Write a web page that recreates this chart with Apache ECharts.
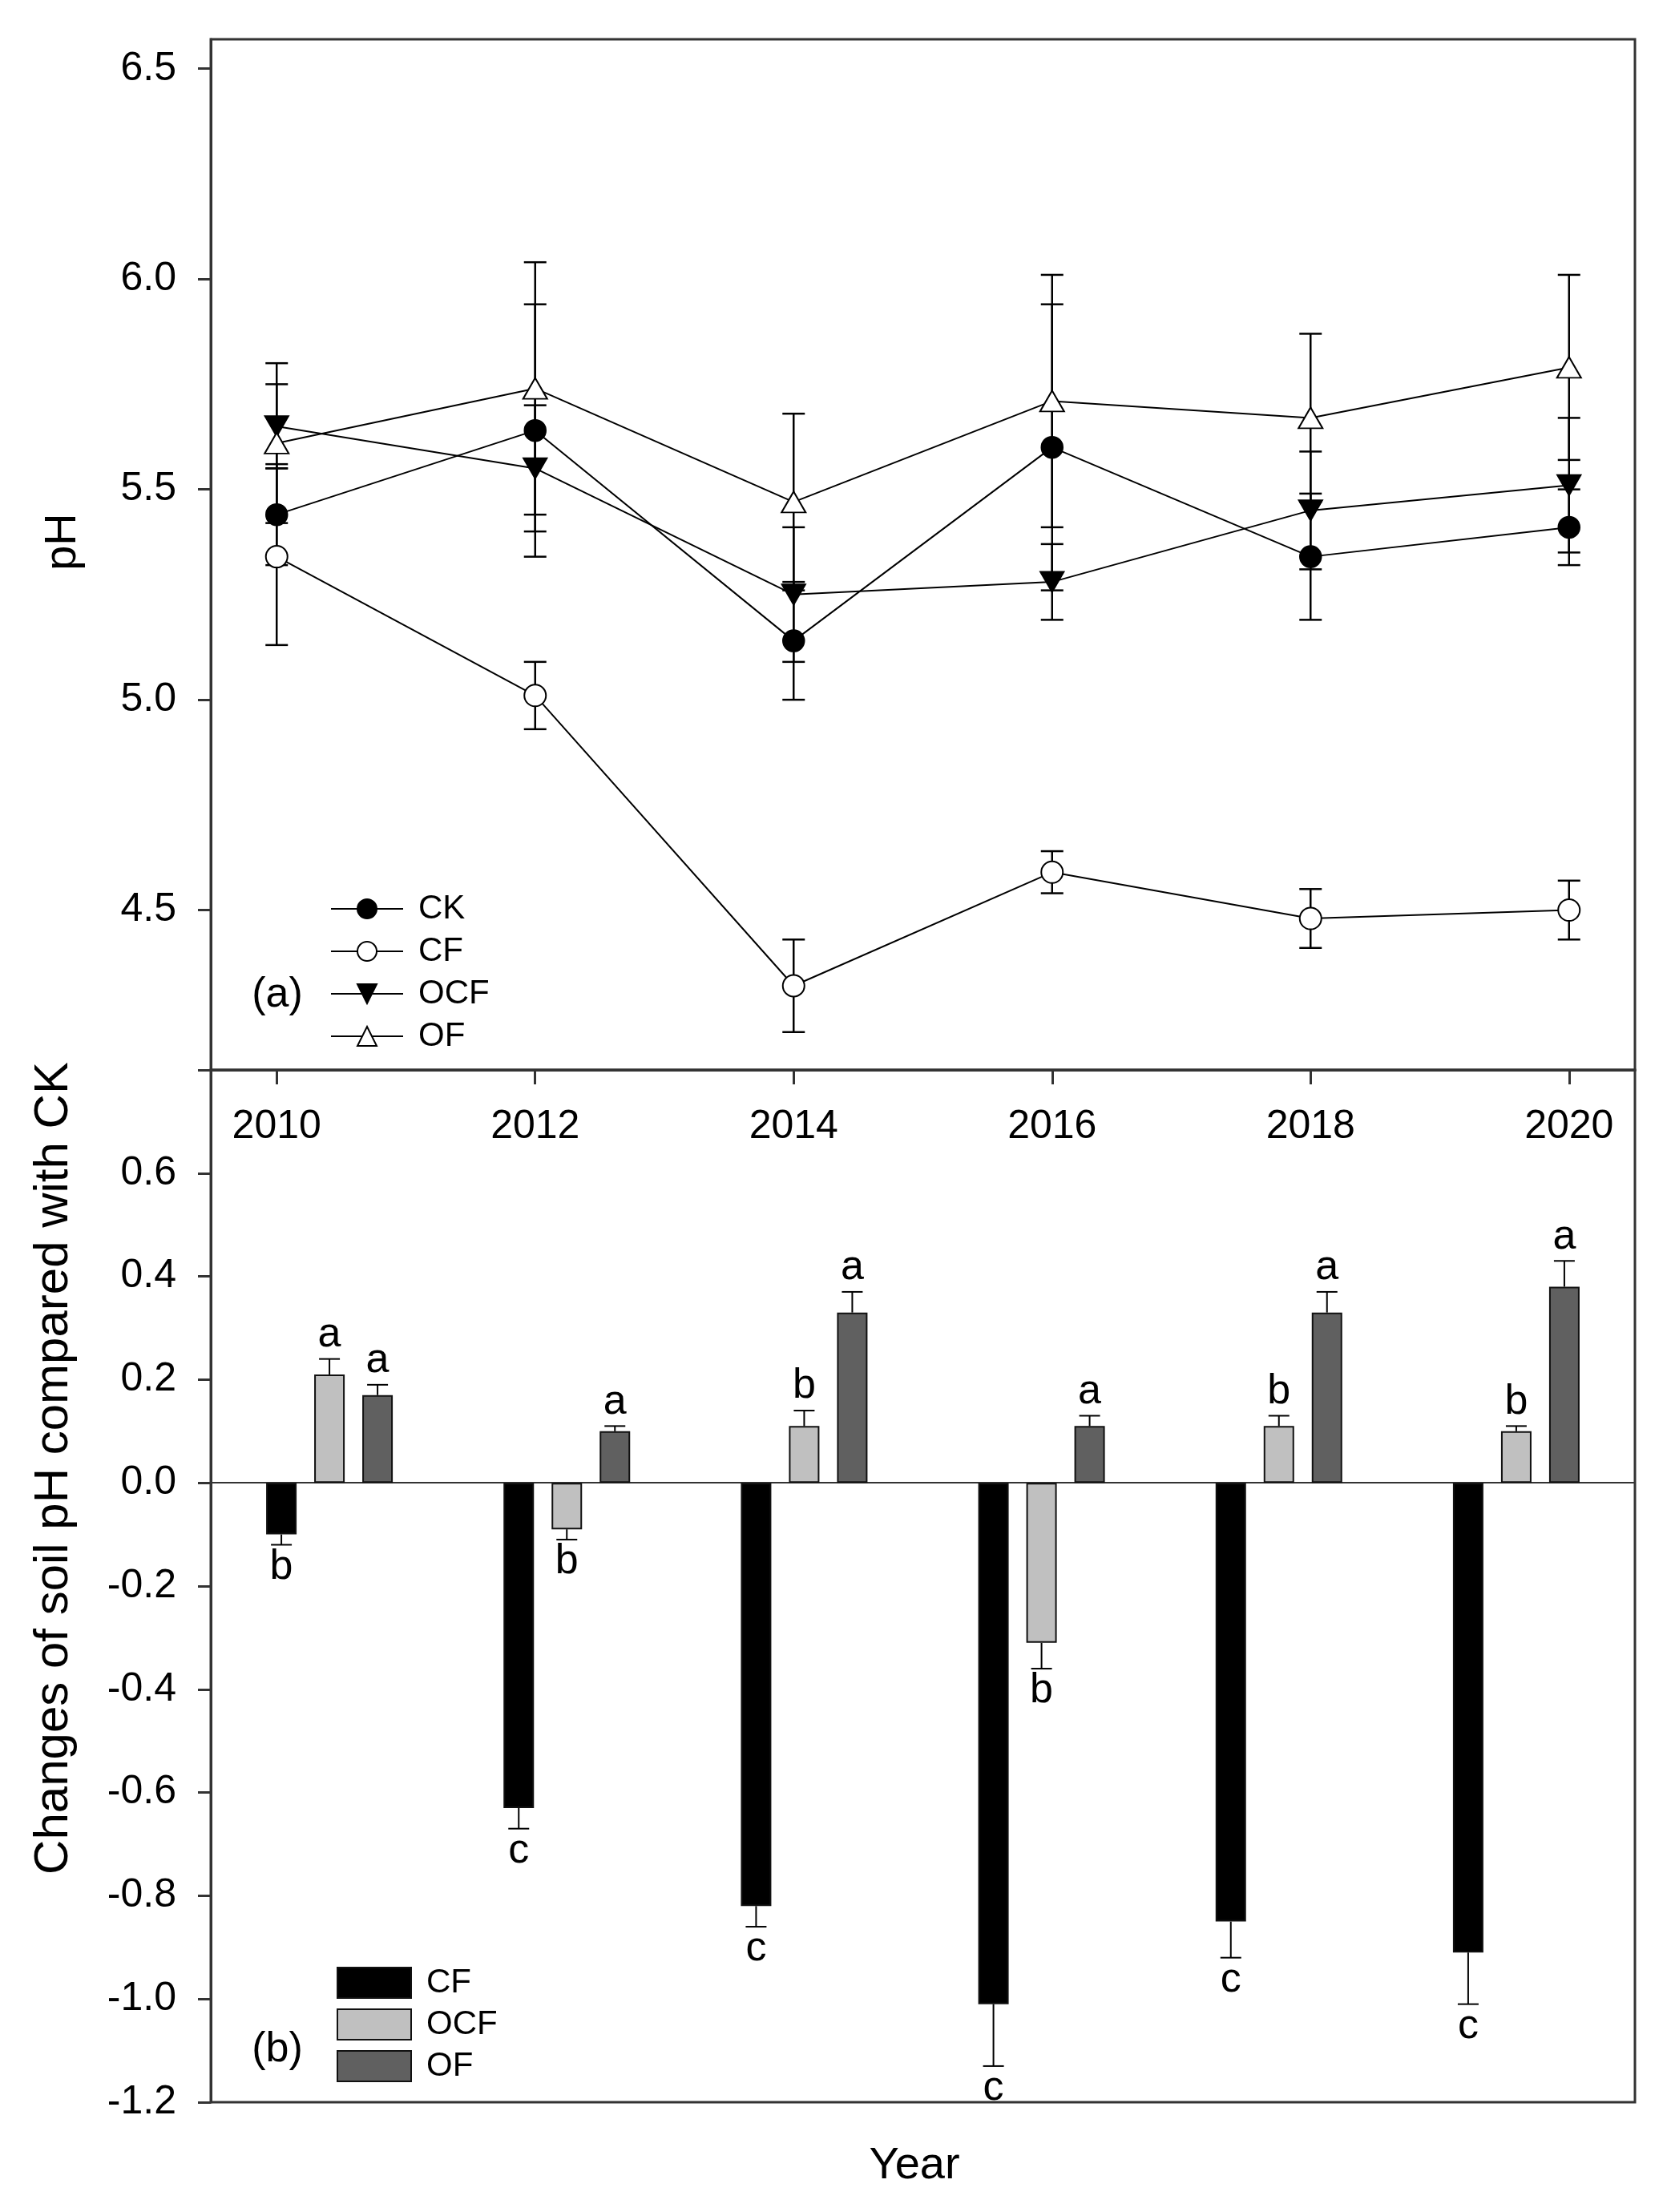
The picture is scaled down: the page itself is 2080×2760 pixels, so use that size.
<!DOCTYPE html>
<html>
<head>
<meta charset="utf-8">
<script src="https://cdn.jsdelivr.net/npm/echarts@6/dist/echarts.min.js"></script>
<style>
  html, body { margin: 0; padding: 0; background: #fff; }
  #main { width: 2080px; height: 2760px; }
</style>
</head>
<body>
<div id="main"></div>
<script>
// years on the x axis
var years = [2010, 2012, 2014, 2016, 2018, 2020];
var yearLabels = ['2010', '2012', '2014', '2016', '2018', '2020'];

// (a) soil pH, mean and error
var ckPH = [5.44, 5.64, 5.14, 5.60, 5.34, 5.41];
var ckErr = [0.12, 0.30, 0.14, 0.34, 0.15, 0.09];
var cfPH = [5.34, 5.01, 4.32, 4.59, 4.48, 4.50];
var cfErr = [0.21, 0.08, 0.11, 0.05, 0.07, 0.07];
var ocfPH = [5.65, 5.55, 5.25, 5.28, 5.45, 5.51];
var ocfErr = [0.10, 0.15, 0.16, 0.09, 0.14, 0.16];
var ofPH = [5.61, 5.74, 5.47, 5.71, 5.67, 5.79];
var ofErr = [0.19, 0.30, 0.21, 0.30, 0.20, 0.22];
var phTicks = [4.5, 5.0, 5.5, 6.0, 6.5];

// (b) change compared with CK
var cfDiff = [-0.10, -0.63, -0.82, -1.01, -0.85, -0.91];
var cfDiffErr = [0.02, 0.04, 0.04, 0.12, 0.07, 0.10];
var ocfDiff = [0.21, -0.09, 0.11, -0.31, 0.11, 0.10];
var ocfDiffErr = [0.03, 0.02, 0.03, 0.05, 0.02, 0.01];
var ofDiff = [0.17, 0.10, 0.33, 0.11, 0.33, 0.38];
var ofDiffErr = [0.02, 0.01, 0.04, 0.02, 0.04, 0.05];
var cfLetters = ['b', 'c', 'c', 'c', 'c', 'c'];
var ocfLetters = ['a', 'b', 'b', 'b', 'b', 'b'];
var ofLetters = ['a', 'a', 'a', 'a', 'a', 'a'];

var FONT = 'Liberation Sans';
var frameColor = '#333';
var barW = 38, barGapPx = 22;

// vertical error bars for the pH panel
function phErrSeries(means, errs) {
    return {
        type: 'custom', xAxisIndex: 0, yAxisIndex: 0, z: 2, silent: true,
        data: means.map(function(m, i) { return [years[i], m - errs[i], m + errs[i]]; }),
        encode: { x: 0, y: [1, 2] },
        renderItem: function(params, api) {
            var lo = api.coord([api.value(0), api.value(1)]);
            var hi = api.coord([api.value(0), api.value(2)]);
            var x = lo[0], h = 14;
            var st = { stroke: '#000', lineWidth: 2.5 };
            return { type: 'group', children: [
                { type: 'line', shape: { x1: x, y1: lo[1], x2: x, y2: hi[1] }, style: st },
                { type: 'line', shape: { x1: x - h, y1: lo[1], x2: x + h, y2: lo[1] }, style: st },
                { type: 'line', shape: { x1: x - h, y1: hi[1], x2: x + h, y2: hi[1] }, style: st }
            ] };
        }
    };
}

// one-sided error bars + significance letters for the bar panel
function diffErrSeries(vals, errs, letters, slot) {
    return {
        type: 'custom', xAxisIndex: 1, yAxisIndex: 1, z: 5, silent: true,
        data: vals.map(function(v, i) { return [i, v, v < 0 ? v - errs[i] : v + errs[i]]; }),
        encode: { x: 0, y: [1, 2] },
        renderItem: function(params, api) {
            var a = api.coord([api.value(0), api.value(1)]);
            var b = api.coord([api.value(0), api.value(2)]);
            var x = a[0] + slot * (barW + barGapPx);
            var neg = api.value(1) < 0;
            var st = { stroke: '#000', lineWidth: 2 };
            return { type: 'group', children: [
                { type: 'line', shape: { x1: x, y1: a[1], x2: x, y2: b[1] }, style: st },
                { type: 'line', shape: { x1: x - 13, y1: b[1], x2: x + 13, y2: b[1] }, style: st },
                { type: 'text', x: x, y: neg ? b[1] + 2 : b[1] - 4,
                  style: { text: letters[params.dataIndex], fill: '#000',
                           font: '52px "' + FONT + '"', align: 'center',
                           verticalAlign: neg ? 'top' : 'bottom' } }
            ] };
        }
    };
}

function pts(vals) {
    return vals.map(function(v, i) { return [years[i], v]; });
}

var myChart = echarts.init(document.getElementById('main'));

var axisLineStyle = { color: frameColor, width: 3 };
var labelStyle = { color: '#000', fontSize: 50, fontFamily: FONT };

var option = {
    backgroundColor: '#fff',
    animation: false,
    textStyle: { fontFamily: FONT, color: '#000' },
    grid: [
        { left: 263, right: 40, top: 49, height: 1286, show: true,
          borderColor: frameColor, borderWidth: 3, backgroundColor: 'transparent' },
        { left: 263, right: 40, top: 1335, height: 1288, show: true,
          borderColor: frameColor, borderWidth: 3, backgroundColor: 'transparent' }
    ],
    xAxis: [
        { type: 'value', gridIndex: 0, min: 2009.49, max: 2020.51, position: 'bottom',
          axisLine: { show: true, lineStyle: axisLineStyle },
          axisTick: { show: true, inside: false, length: 18, lineStyle: axisLineStyle, customValues: years },
          axisLabel: Object.assign({ margin: 46, customValues: years,
              formatter: function(v) { return String(Math.round(v)); } }, labelStyle),
          splitLine: { show: false } },
        { type: 'category', gridIndex: 1, data: yearLabels,
          axisLine: { show: true, onZero: true, lineStyle: { color: frameColor, width: 2 } },
          axisTick: { show: false }, axisLabel: { show: false }, splitLine: { show: false } }
    ],
    yAxis: [
        { type: 'value', gridIndex: 0, min: 4.12, max: 6.57,
          axisLine: { show: true, lineStyle: axisLineStyle },
          axisTick: { show: true, inside: false, length: 16, lineStyle: axisLineStyle, customValues: phTicks },
          axisLabel: Object.assign({ margin: 43, customValues: phTicks,
              formatter: function(v) { return v.toFixed(1); } }, labelStyle),
          splitLine: { show: false } },
        { type: 'value', gridIndex: 1, min: -1.2, max: 0.8, interval: 0.2,
          axisLine: { show: true, lineStyle: axisLineStyle },
          axisTick: { show: true, inside: false, length: 16, lineStyle: axisLineStyle },
          axisLabel: Object.assign({ margin: 43,
              formatter: function(v) { return v > 0.7 ? '' : v.toFixed(1); } }, labelStyle),
          splitLine: { show: false } }
    ],
    legend: [
        { data: ['CK', 'CF', 'OCF', 'OF'], orient: 'vertical', left: 407, top: 1108,
          itemWidth: 90, itemHeight: 30, itemGap: 11,
          textStyle: { fontSize: 42, fontFamily: FONT, color: '#000', padding: [0, 0, 0, 14] } },
        { data: ['CF_b', 'OCF_b', 'OF_b'], orient: 'vertical', left: 415, top: 2448,
          itemWidth: 92, itemHeight: 38, itemGap: 10, icon: 'rect',
          formatter: function(n) { return n.split('_')[0]; },
          textStyle: { fontSize: 42, fontFamily: FONT, color: '#000', padding: [0, 0, 0, 14] } }
    ],
    graphic: [
        { type: 'text', x: 79, y: 676, rotation: Math.PI / 2,
          style: { text: 'pH', font: '56px "' + FONT + '"', fill: '#000', align: 'center', verticalAlign: 'middle' } },
        { type: 'text', x: 67, y: 1832, rotation: Math.PI / 2,
          style: { text: 'Changes of soil pH compared with CK', font: '60px "' + FONT + '"', fill: '#000',
                   align: 'center', verticalAlign: 'middle' } },
        { type: 'text', x: 346, y: 1242,
          style: { text: '(a)', font: '52px "' + FONT + '"', fill: '#000', align: 'center', verticalAlign: 'middle' } },
        { type: 'text', x: 346, y: 2558,
          style: { text: '(b)', font: '52px "' + FONT + '"', fill: '#000', align: 'center', verticalAlign: 'middle' } },
        { type: 'text', x: 1141, y: 2703,
          style: { text: 'Year', font: '56px "' + FONT + '"', fill: '#000', align: 'center', verticalAlign: 'middle' } }
    ],
    series: [
        phErrSeries(ckPH, ckErr),
        phErrSeries(cfPH, cfErr),
        phErrSeries(ocfPH, ocfErr),
        phErrSeries(ofPH, ofErr),
        { name: 'CK', type: 'line', xAxisIndex: 0, yAxisIndex: 0, data: pts(ckPH), z: 4,
          symbol: 'circle', symbolSize: 27, lineStyle: { color: '#000', width: 2 },
          itemStyle: { color: '#000', borderColor: '#000', borderWidth: 1.5 } },
        { name: 'CF', type: 'line', xAxisIndex: 0, yAxisIndex: 0, data: pts(cfPH), z: 4,
          symbol: 'circle', symbolSize: 27, lineStyle: { color: '#000', width: 2 },
          itemStyle: { color: '#fff', borderColor: '#000', borderWidth: 2 } },
        { name: 'OCF', type: 'line', xAxisIndex: 0, yAxisIndex: 0, data: pts(ocfPH), z: 4,
          symbol: 'triangle', symbolRotate: 180, symbolSize: [30, 26], lineStyle: { color: '#000', width: 2 },
          itemStyle: { color: '#000', borderColor: '#000', borderWidth: 1.5 } },
        { name: 'OF', type: 'line', xAxisIndex: 0, yAxisIndex: 0, data: pts(ofPH), z: 4,
          symbol: 'triangle', symbolSize: [30, 26], lineStyle: { color: '#000', width: 2 },
          itemStyle: { color: '#fff', borderColor: '#000', borderWidth: 2 } },
        { name: 'CF_b', type: 'bar', xAxisIndex: 1, yAxisIndex: 1, data: cfDiff,
          barWidth: barW, barGap: (barGapPx / barW * 100) + '%',
          itemStyle: { color: '#000', borderColor: '#111', borderWidth: 2 } },
        { name: 'OCF_b', type: 'bar', xAxisIndex: 1, yAxisIndex: 1, data: ocfDiff,
          barWidth: barW, barGap: (barGapPx / barW * 100) + '%',
          itemStyle: { color: '#c0c0c0', borderColor: '#111', borderWidth: 2 } },
        { name: 'OF_b', type: 'bar', xAxisIndex: 1, yAxisIndex: 1, data: ofDiff,
          barWidth: barW, barGap: (barGapPx / barW * 100) + '%',
          itemStyle: { color: '#606060', borderColor: '#111', borderWidth: 2 } },
        diffErrSeries(cfDiff, cfDiffErr, cfLetters, -1),
        diffErrSeries(ocfDiff, ocfDiffErr, ocfLetters, 0),
        diffErrSeries(ofDiff, ofDiffErr, ofLetters, 1)
    ]
};

myChart.setOption(option);

window.onresize = function() {
    myChart.resize();
};
</script>
</body>
</html>
